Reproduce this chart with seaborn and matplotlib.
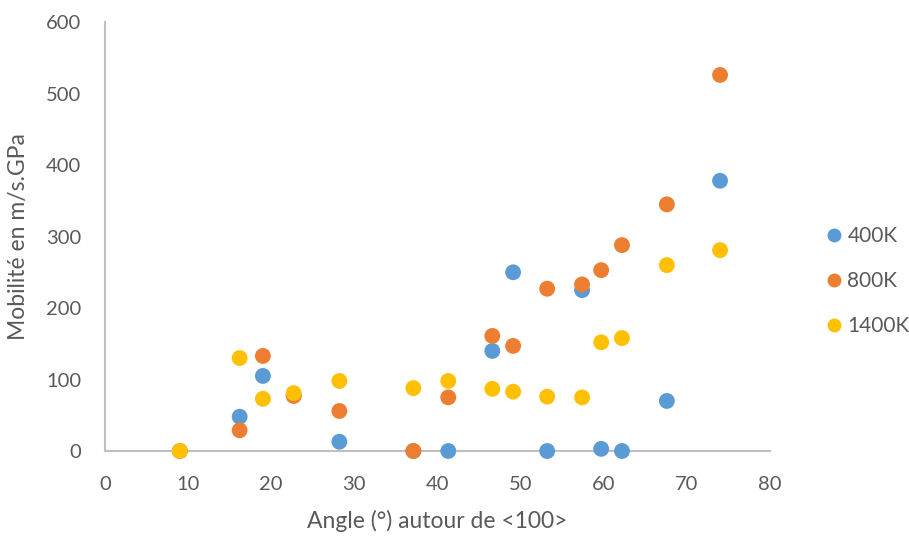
import pandas as pd
import numpy as np
import matplotlib.pyplot as plt
import seaborn as sns

sns.set_style("white")
plt.rcParams['font.family'] = ['Lato', 'DejaVu Sans']

# Data
angles = [9.0, 16.2, 19.0, 22.7, 28.2, 37.1, 41.3, 46.6, 49.1, 53.2, 57.4, 59.7, 62.2, 67.6, 74.0]
mob_400 = [0, 48, 105, 78, 13, 0, 0, 140, 250, 0, 225, 3, 0, 70, 378]
mob_800 = [0, 29, 133, 77, 56, 0, 75, 161, 147, 227, 233, 253, 288, 345, 526]
mob_1400 = [0, 130, 73, 81, 98, 88, 98, 87, 83, 76, 75, 152, 158, 260, 281]
series = ['400K', '800K', '1400K']
colors = ['#5B9BD5', '#ED7D31', '#FFC000']

df = pd.DataFrame({
    'angle': angles * 3,
    'mob': mob_400 + mob_800 + mob_1400,
    'temp': [s for s in series for _ in angles],
})

fig = plt.figure(figsize=(9.09, 5.38), dpi=100)
ax = fig.add_axes([0.1155, 0.1617, 0.7315, 0.7973])

sns.scatterplot(data=df, x='angle', y='mob', hue='temp', hue_order=series,
                palette=colors, s=130, edgecolor='none', ax=ax, legend=False,
                clip_on=False, zorder=3)

ax.set_xlim(0, 80)
ax.set_ylim(0, 600)
ax.set_xticks(range(0, 81, 10))
ax.set_yticks(range(0, 601, 100))
ax.tick_params(axis='x', length=0, labelsize=14.5, colors='#595959', pad=18)
ax.tick_params(axis='y', length=0, labelsize=14.5, colors='#595959', pad=17)
ax.set_xlabel('Angle (°) autour de <100>', fontsize=16.5, color='#595959', labelpad=12)
ax.set_ylabel('Mobilité en m/s.GPa', fontsize=16.5, color='#595959', labelpad=12)
for side in ['top', 'right']:
    ax.spines[side].set_visible(False)
for side in ['left', 'bottom']:
    ax.spines[side].set_color('#BFBFBF')
    ax.spines[side].set_linewidth(1.5)

handles = [plt.Line2D([], [], marker='o', linestyle='', markersize=10,
                      markerfacecolor=c, markeredgecolor='none') for c in colors]
fig.legend(handles, series, loc='center left', bbox_to_anchor=(0.883, 0.478),
           frameon=False, fontsize=15, labelcolor='#595959', labelspacing=1.2,
           handletextpad=0.05, handlelength=1.2)

plt.savefig('out.png', dpi=100)
plt.close()
